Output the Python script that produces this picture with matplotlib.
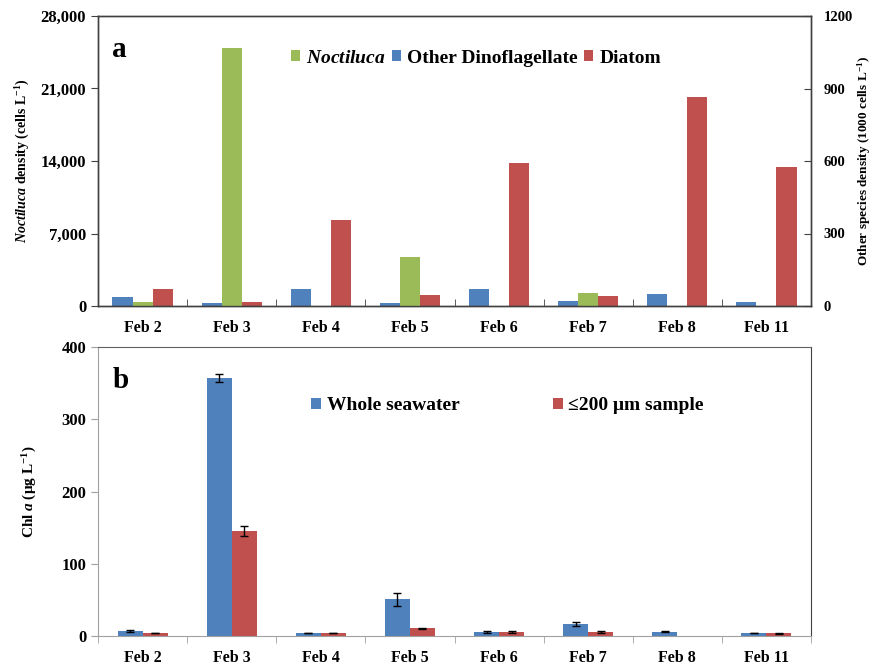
import numpy as np
import matplotlib

matplotlib.use("Agg")
import matplotlib.pyplot as plt
from matplotlib.ticker import FuncFormatter

plt.rcParams["font.family"] = ["Liberation Serif", "DejaVu Serif"]
plt.rcParams["font.weight"] = "bold"
plt.rcParams["axes.labelweight"] = "bold"
plt.rcParams["mathtext.fontset"] = "custom"
plt.rcParams["mathtext.rm"] = "Liberation Serif:bold"
plt.rcParams["mathtext.bf"] = "Liberation Serif:bold"
plt.rcParams["mathtext.it"] = "Liberation Serif:bold:italic"

days = ["Feb 2", "Feb 3", "Feb 4", "Feb 5", "Feb 6", "Feb 7", "Feb 8", "Feb 11"]

# panel a
noctiluca = [360, 24900, 0, 4730, 0, 1290, 0, 0]          # cells/L, left axis
other_dino = [37, 12, 70, 14, 72, 21, 50, 18]             # 1000 cells/L, right axis
diatom = [69, 15, 356, 45, 592, 43, 865, 575]             # 1000 cells/L, right axis

# panel b (no <=200 um sample on Feb 8)
chl_whole = [7, 357, 4, 51, 5.5, 17, 6, 4]
chl_whole_err = [1, 5, 0.5, 9, 0.8, 2.5, 0.8, 0.5]
chl_200 = [4, 145, 4, 10.5, 5.5, 5.5, np.nan, 3.5]
chl_200_err = [0.5, 7, 0.5, 1, 1.5, 0.8, np.nan, 0.5]

GREEN = "#9BBB59"
BLUE = "#4F81BD"
RED = "#C0504D"

x = np.arange(len(days))
fig = plt.figure(figsize=(8.74, 6.65), dpi=100)
W, H = 874, 665


def box(l, t, r, b):
    return [l / W, 1 - b / H, (r - l) / W, (b - t) / H]


# ---- panel a ----
ax = fig.add_axes(box(98, 16, 811, 306))
ax2 = ax.twinx()
w = 0.225
ax2.bar(x - w, other_dino, w, color=BLUE, label="Other Dinoflagellate")
ax.bar(x, noctiluca, w, color=GREEN, label=r"$\it{Noctiluca}$")
ax2.bar(x + w, diatom, w, color=RED, label="Diatom")
ax.set_zorder(ax2.get_zorder() + 1)
ax.patch.set_visible(False)

ax.set_xlim(-0.5, len(days) - 0.5)
ax.set_ylim(0, 28000)
ax.set_yticks(np.arange(0, 28001, 7000))
ax.yaxis.set_major_formatter(FuncFormatter(lambda v, p: f"{int(v):,}"))
ax2.set_ylim(0, 1200)
ax2.set_yticks(np.arange(0, 1201, 300))
ax.set_xticks(x)
ax.set_xticklabels(days)
ax.set_xticks(np.arange(-0.5, len(days) - 0.4, 1), minor=True)
ax.tick_params(axis="x", which="major", length=0, pad=10, labelsize=11.5)
ax.tick_params(axis="x", which="minor", direction="in", length=5, color="#404040")
ax.tick_params(axis="y", direction="out", length=5, labelsize=12, color="#404040")
ax2.tick_params(axis="y", direction="in", length=5, labelsize=10.5, pad=9, color="#404040")
for a in (ax, ax2):
    for s in a.spines.values():
        s.set_color("#404040")
        s.set_linewidth(1.0)
ax.set_ylabel(r"$\it{Noctiluca}$ density (cells L$^{-1}$)", fontsize=10, labelpad=6)
ax2.set_ylabel(r"Other species density (1000 cells L$^{-1}$)", fontsize=9.5, labelpad=2)
ax.text(0.02, 0.93, "a", transform=ax.transAxes, fontsize=21, fontweight="bold", va="top")

h1, l1 = ax.get_legend_handles_labels()
h2, l2 = ax2.get_legend_handles_labels()
handles = [h1[0], h2[0], h2[1]]
labels = [l1[0], l2[0], l2[1]]
ax.legend(handles, labels, loc="center left", bbox_to_anchor=(0.27, 0.855), ncol=3,
          frameon=False, fontsize=14, handlelength=0.5, handleheight=0.5,
          handletextpad=0.3, columnspacing=0.3, borderaxespad=0, borderpad=0)

# ---- panel b ----
bx = fig.add_axes(box(98, 347, 811, 636))
wb = 0.28
ek = dict(ecolor="black", capsize=3, elinewidth=1, capthick=1)
bx.bar(x - wb / 2, chl_whole, wb, yerr=chl_whole_err, color=BLUE,
       label="Whole seawater", error_kw=ek)
bx.bar(x + wb / 2, chl_200, wb, yerr=chl_200_err, color=RED,
       label="\u2264200 \u03bcm sample", error_kw=ek)
bx.set_xlim(-0.5, len(days) - 0.5)
bx.set_ylim(0, 400)
bx.set_yticks(np.arange(0, 401, 100))
bx.set_xticks(x)
bx.set_xticklabels(days)
bx.set_xticks(np.arange(-0.5, len(days) - 0.4, 1), minor=True)
bx.tick_params(axis="x", which="major", length=0, pad=10, labelsize=11.5)
bx.tick_params(axis="x", which="minor", direction="out", length=5, color="#a0a0a0")
bx.tick_params(axis="y", direction="out", length=5, labelsize=12, color="#a0a0a0")
bx.spines["left"].set_color("#a0a0a0")
bx.spines["bottom"].set_color("#a0a0a0")
bx.spines["top"].set_color("#606060")
bx.spines["right"].set_color("#404040")
bx.set_ylabel(r"Chl $\it{a}$ ($\mathrm{\mu}$g L$^{-1}$)", fontsize=11, labelpad=16)
bx.text(0.02, 0.93, "b", transform=bx.transAxes, fontsize=21, fontweight="bold", va="top")
bx.legend(loc="center left", bbox_to_anchor=(0.299, 0.797), ncol=2, frameon=False,
          fontsize=14, handlelength=0.5, handleheight=0.5, handletextpad=0.3,
          columnspacing=4.8, borderaxespad=0, borderpad=0)

fig.savefig("out.png", dpi=100)
